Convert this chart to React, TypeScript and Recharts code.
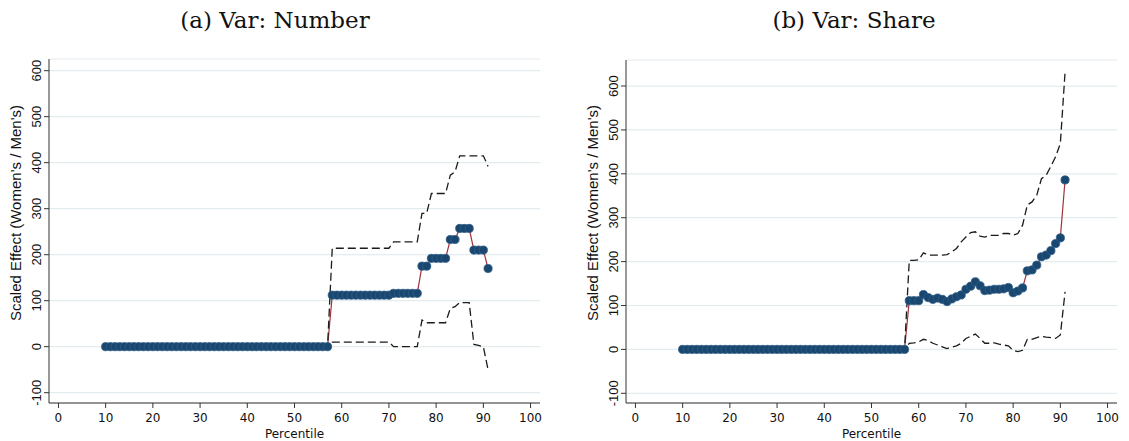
import React from 'react';
import { ComposedChart, Line, Scatter, XAxis, YAxis, CartesianGrid, Label } from 'recharts';

const percentile = [
  10, 11, 12, 13, 14, 15, 16, 17, 18, 19, 20, 21, 22, 23, 24, 25, 26, 27, 28, 29,
  30, 31, 32, 33, 34, 35, 36, 37, 38, 39, 40, 41, 42, 43, 44, 45, 46, 47, 48, 49,
  50, 51, 52, 53, 54, 55, 56, 57, 58, 59, 60, 61, 62, 63, 64, 65, 66, 67, 68, 69,
  70, 71, 72, 73, 74, 75, 76, 77, 78, 79, 80, 81, 82, 83, 84, 85, 86, 87, 88, 89,
  90, 91,
];

// flat stretch below the jump (percentiles 10-57)
const zeros = [
  0, 0, 0, 0, 0, 0, 0, 0, 0, 0, 0, 0, 0, 0, 0, 0, 0, 0, 0, 0, 0, 0, 0, 0,
  0, 0, 0, 0, 0, 0, 0, 0, 0, 0, 0, 0, 0, 0, 0, 0, 0, 0, 0, 0, 0, 0, 0, 0,
];

// (a) Var: Number, percentiles 58-91
const numberEst = [
  112, 112, 112, 112, 112, 112, 112, 112, 112, 112, 112, 112, 112,
  116, 116, 116, 116, 116, 116, 175, 175, 192, 192, 192, 192, 233, 233,
  257, 257, 257, 210, 210, 210, 170,
];
const numberHigh = [
  214, 214, 214, 214, 214, 214, 214, 214, 214, 214, 214, 214, 214,
  228, 228, 228, 228, 228, 228, 290, 290, 333, 333, 333, 333, 373, 380,
  415, 415, 415, 415, 415, 415, 392,
];
const numberLow = [
  10, 10, 10, 10, 10, 10, 10, 10, 10, 10, 10, 10, 10,
  0, 0, 0, 0, 0, 0, 58, 52, 52, 52, 52, 52, 83, 87,
  96, 96, 96, 5, 3, 0, -50,
];

// (b) Var: Share, percentiles 58-91
const shareEst = [
  111, 111, 111, 125, 118, 114, 117, 114, 109, 115, 120, 124, 137, 144, 154, 145, 134,
  135, 137, 137, 138, 141, 129, 133, 140, 179, 181, 192, 211, 215, 225, 241, 254, 386,
];
const shareHigh = [
  203, 203, 204, 220, 215, 215, 215, 215, 216, 222, 230, 245, 256, 266, 268, 258, 256,
  260, 260, 260, 264, 264, 260, 264, 283, 329, 336, 351, 389, 397, 417, 439, 469, 632,
];
const shareLow = [
  14, 15, 17, 23, 20, 14, 10, 6, 2, 5, 8, 14, 25, 30, 35, 25, 14,
  14, 15, 12, 10, 8, -2, -5, -2, 23, 23, 27, 30, 28, 27, 25, 33, 131,
];

const xTicks = [0, 10, 20, 30, 40, 50, 60, 70, 80, 90, 100];
const yTicks = [-100, 0, 100, 200, 300, 400, 500, 600];

const buildRows = (est: number[], high: number[], low: number[]) =>
  percentile.map((p, i) => ({
    pct: p,
    est: [...zeros, ...est][i],
    high: [...zeros, ...high][i],
    low: [...zeros, ...low][i],
  }));

const numberData = buildRows(numberEst, numberHigh, numberLow);
const shareData = buildRows(shareEst, shareHigh, shareLow);

const SANS = "'DejaVu Sans', 'Liberation Sans', Arial, sans-serif";
const NARROW = "'Liberation Sans Narrow', 'Liberation Sans', Arial, sans-serif";
const AXIS = '#333';
const NAVY = '#1a476f';
const MAROON = '#a0323b';

const YTick = (props: any) => {
  const { x, y, payload } = props;
  return (
    <text
      x={x}
      y={y}
      transform={`rotate(-90 ${x} ${y})`}
      textAnchor="middle"
      fontSize={13}
      fontFamily={NARROW}
      fill="#111"
    >
      {payload.value}
    </text>
  );
};

const Marker = (props: any) => {
  const { cx, cy } = props;
  if (cx == null || cy == null) return null;
  return <circle cx={cx} cy={cy} r={4.1} fill={NAVY} stroke="#2d5d88" strokeWidth={0.8} />;
};

type PanelProps = {
  data: any[];
  width: number;
  top: number;
  right: number;
  yDomain: [number, number];
  titleX: number;
  titleY: number;
};

const Panel: React.FC<PanelProps> = ({ data, width, top, right, yDomain, titleX, titleY }) => (
  <ComposedChart width={width} height={441} data={data} margin={{ top, right, bottom: 0, left: 0 }}>
    <CartesianGrid vertical={false} stroke="#e3ecef" strokeWidth={1.2} />
    <XAxis
      type="number"
      dataKey="pct"
      domain={[-2, 102]}
      ticks={xTicks}
      allowDataOverflow
      height={38}
      tickSize={5}
      tickMargin={5}
      axisLine={{ stroke: AXIS }}
      tickLine={{ stroke: AXIS }}
      tick={{ fontSize: 12, fontFamily: SANS, fill: '#111' }}
    >
      <Label value="Percentile" position="insideBottom" offset={3.5} fontSize={12} fontFamily={SANS} fill="#111" />
    </XAxis>
    <YAxis
      type="number"
      domain={yDomain}
      ticks={yTicks}
      allowDataOverflow
      width={49}
      tickSize={5}
      tickMargin={3}
      axisLine={{ stroke: AXIS }}
      tickLine={{ stroke: AXIS }}
      tick={<YTick />}
    >
      <Label
        content={() => (
          <text
            x={titleX}
            y={titleY}
            transform={`rotate(-90 ${titleX} ${titleY})`}
            textAnchor="middle"
            fontSize={15}
            fontFamily={"'Liberation Sans', Arial, sans-serif"}
            fill="#111"
          >
            Scaled Effect (Women's / Men's)
          </text>
        )}
      />
    </YAxis>
    <Scatter dataKey="est" shape={<Marker />} isAnimationActive={false} />
    <Line dataKey="est" type="linear" stroke={MAROON} strokeWidth={1.2} dot={false} activeDot={false} isAnimationActive={false} />
    <Line dataKey="high" type="linear" stroke="#1b1b1b" strokeWidth={1.3} strokeDasharray="8 4" dot={false} activeDot={false} isAnimationActive={false} />
    <Line dataKey="low" type="linear" stroke="#1b1b1b" strokeWidth={1.3} strokeDasharray="8 4" dot={false} activeDot={false} isAnimationActive={false} />
  </ComposedChart>
);

export default function App() {
  return (
    <div style={{ position: 'fixed', left: 0, top: 0, width: 1129, height: 441, background: '#fff', overflow: 'hidden' }}>
      <svg width={1129} height={441} style={{ position: 'absolute', left: 0, top: 0 }}>
        <text x={275} y={28} textAnchor="middle" fontSize={23} fontFamily="'DejaVu Serif', 'Liberation Serif', serif" fill="#111">
          (a) Var: Number
        </text>
        <text x={854} y={28} textAnchor="middle" fontSize={23} fontFamily="'DejaVu Serif', 'Liberation Serif', serif" fill="#111">
          (b) Var: Share
        </text>
      </svg>
      <div style={{ position: 'absolute', left: 0, top: 0 }}>
        <Panel data={numberData} width={560} top={59} right={20} yDomain={[-122.4, 625.4]} titleX={21} titleY={213} />
      </div>
      <div style={{ position: 'absolute', left: 577, top: 0 }}>
        <Panel data={shareData} width={552} top={60} right={12} yDomain={[-122.1, 659.3]} titleX={21} titleY={213} />
      </div>
    </div>
  );
}
